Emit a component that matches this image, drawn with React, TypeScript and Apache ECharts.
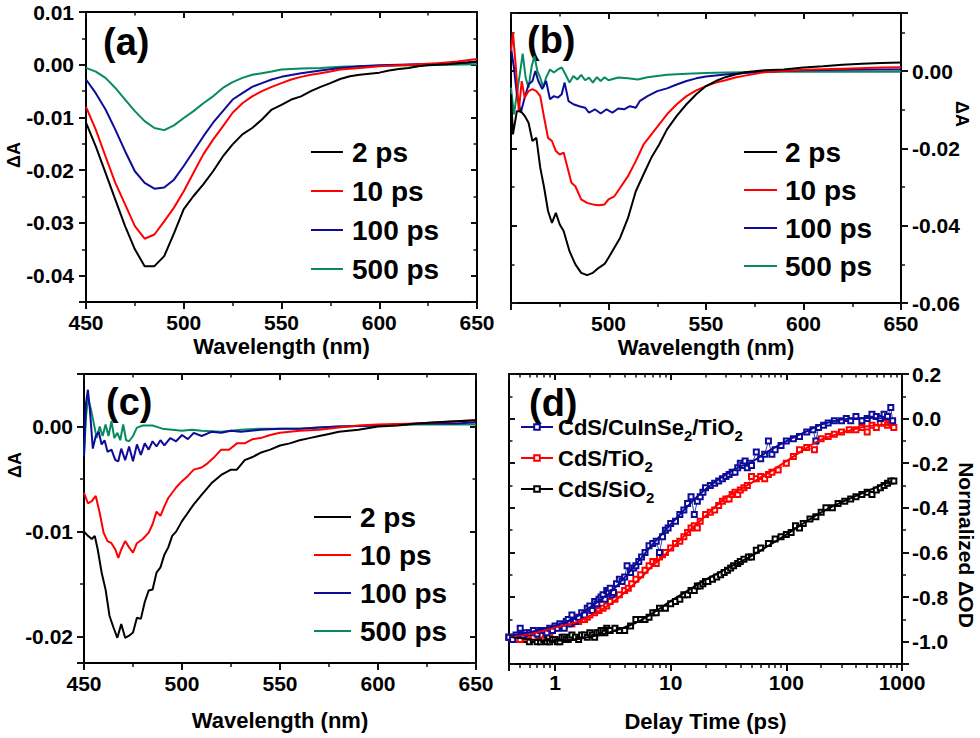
import React, { useEffect, useRef } from "react";
import * as echarts from "echarts";

const FONT = "'Liberation Sans', Arial, Helvetica, sans-serif";
const BLACK = "#000000";
const RED = "#ff0000";
const BLUE = "#0c0c98";
const GREEN = "#078a60";
const TICK = "#111111";

// ---------- Panel (a) ----------
const a2ps = [[450,-0.011],[455,-0.0155],[460,-0.0205],[465,-0.0256],[470,-0.0306],[475,-0.035],[480,-0.0382],[485,-0.0382],[490,-0.0363],[495,-0.032],[500,-0.0274],[505,-0.0249],[510,-0.0227],[515,-0.0202],[520,-0.0174],[525,-0.0151],[530,-0.0132],[535,-0.012],[540,-0.0104],[545,-0.0085],[550,-0.0076],[555,-0.0066],[560,-0.006],[565,-0.005],[570,-0.0042],[575,-0.0035],[580,-0.0027],[585,-0.0022],[590,-0.0019],[595,-0.0017],[600,-0.0015],[605,-0.0011],[610,-0.0008],[615,-0.0006],[620,-0.0003],[625,-0.0001],[630,0],[635,0.0001],[640,0.0003],[645,0.0004],[650,0.0006]];
const a10ps = [[450,-0.008],[455,-0.0123],[460,-0.0174],[465,-0.0224],[470,-0.0265],[475,-0.0306],[480,-0.033],[485,-0.0322],[490,-0.0297],[495,-0.0271],[500,-0.024],[505,-0.0205],[510,-0.017],[515,-0.0142],[520,-0.0117],[525,-0.0091],[530,-0.0073],[535,-0.006],[540,-0.005],[545,-0.0042],[550,-0.0035],[555,-0.0028],[560,-0.0023],[565,-0.0019],[570,-0.0016],[575,-0.0013],[580,-0.0009],[590,-0.0006],[600,-0.0003],[610,-0.0001],[620,0.0001],[630,0.0003],[640,0.0006],[650,0.0011]];
const a100ps = [[450,-0.0028],[455,-0.0054],[460,-0.0085],[465,-0.0123],[470,-0.0164],[475,-0.0202],[480,-0.0224],[485,-0.0235],[490,-0.0233],[495,-0.0218],[500,-0.0192],[505,-0.0164],[510,-0.0136],[515,-0.011],[520,-0.0088],[525,-0.0066],[530,-0.0054],[535,-0.0042],[540,-0.0035],[545,-0.0028],[550,-0.0023],[560,-0.0016],[570,-0.0011],[580,-0.0006],[590,-0.0003],[600,-0.0001],[610,0],[620,0.0001],[630,0.0002],[640,0.0003],[650,0.0005]];
const a500ps = [[450,-0.0006],[455,-0.0013],[460,-0.0025],[465,-0.0044],[470,-0.0066],[475,-0.0088],[480,-0.0107],[485,-0.012],[490,-0.0124],[495,-0.0115],[500,-0.0101],[505,-0.0088],[510,-0.0073],[515,-0.006],[520,-0.0044],[525,-0.0033],[530,-0.0025],[535,-0.0019],[540,-0.0016],[545,-0.0013],[550,-0.0009],[560,-0.0007],[570,-0.0006],[580,-0.0004],[590,-0.0003],[600,-0.0002],[620,-0.0001],[650,0.0001]];

// ---------- Panel (b) ----------
const b2ps = [[450,-0.006],[451,-0.0164],[453,-0.0104],[455,-0.0104],[457,-0.0116],[459,-0.0134],[461,-0.0181],[463,-0.0173],[465,-0.025],[467,-0.0302],[469,-0.0362],[471,-0.0393],[473,-0.0367],[475,-0.0397],[477,-0.0414],[480,-0.0466],[483,-0.05],[486,-0.0522],[489,-0.0528],[492,-0.0522],[495,-0.0509],[498,-0.0499],[500,-0.0483],[503,-0.0457],[506,-0.0431],[510,-0.038],[514,-0.0311],[518,-0.0267],[522,-0.0224],[526,-0.019],[530,-0.0151],[535,-0.0116],[540,-0.0086],[545,-0.006],[550,-0.0039],[555,-0.0026],[560,-0.0016],[565,-0.0009],[570,-0.0003],[580,0.0002],[590,0.0004],[600,0.0009],[610,0.0012],[620,0.0016],[630,0.0019],[640,0.0021],[650,0.0022]];
const b10ps = [[450,0.0052],[451,0.0099],[452.5,0.0009],[454,-0.0104],[455.5,-0.0026],[457,-0.0069],[459,-0.0052],[461,-0.0047],[463,-0.0052],[465,-0.0065],[467,-0.0121],[469,-0.0173],[471,-0.0181],[473,-0.0207],[475,-0.0216],[477,-0.0211],[479,-0.025],[481,-0.0289],[483,-0.0298],[486,-0.0332],[489,-0.0341],[492,-0.0345],[495,-0.0347],[498,-0.0345],[500,-0.0332],[503,-0.0324],[506,-0.0302],[510,-0.0272],[514,-0.0233],[518,-0.019],[522,-0.0164],[526,-0.0138],[530,-0.0112],[535,-0.0086],[540,-0.0065],[545,-0.005],[550,-0.0039],[555,-0.003],[560,-0.0024],[565,-0.0017],[570,-0.0012],[580,-0.0003],[590,0],[600,0.0003],[620,0.0006],[640,0.0009],[650,0.001]];
const b100ps = [[450,0.006],[451.5,0.0009],[453,-0.006],[455,-0.0108],[457,-0.0069],[459,-0.0035],[461,-0.0026],[462.5,0],[464,-0.0026],[466,-0.0047],[468,-0.0026],[470,-0.0073],[472,-0.0065],[474,-0.0069],[476,-0.006],[477.5,-0.003],[479.5,-0.0078],[482,-0.0086],[485,-0.0091],[488,-0.0095],[490,-0.0108],[493,-0.0099],[496,-0.011],[499,-0.0099],[502,-0.0108],[505,-0.0097],[508,-0.0099],[511,-0.0091],[514,-0.0095],[516,-0.0078],[520,-0.0065],[525,-0.0052],[530,-0.0045],[535,-0.0035],[540,-0.0026],[545,-0.0019],[550,-0.0014],[560,-0.0009],[570,-0.0005],[580,-0.0002],[600,0.0002],[620,0.0003],[640,0.0004],[650,0.0004]];
const b500ps = [[450,-0.0043],[451.5,-0.0112],[453,-0.006],[455,0.0009],[456,0.0045],[457.5,-0.0017],[459,-0.0043],[460.5,0.0009],[462,0.0039],[463.5,0],[465,-0.0017],[466.5,-0.0043],[468,-0.0017],[470,0.0004],[472,-0.0004],[474,0.0004],[476,0.0009],[478,-0.0009],[480,-0.003],[482,-0.0013],[484,-0.0022],[486,-0.001],[488,-0.0024],[490,-0.0017],[492,-0.003],[494,-0.0016],[496,-0.0026],[498,-0.0016],[500,-0.0024],[505,-0.0017],[510,-0.0019],[515,-0.0022],[520,-0.0016],[525,-0.0013],[530,-0.001],[540,-0.0007],[550,-0.0005],[560,-0.0004],[570,-0.0003],[580,-0.0002],[600,-0.0002],[620,-0.0001],[640,-0.0002],[650,-0.0002]];

// ---------- Panel (c) ----------
const c2ps = [[450,-0.01],[452,-0.0104],[454,-0.0107],[455.5,-0.0104],[457,-0.0117],[459,-0.0139],[461,-0.0155],[463,-0.018],[465,-0.0191],[467,-0.0201],[469,-0.0188],[471,-0.0201],[473,-0.0199],[475,-0.0196],[477,-0.0182],[479,-0.0183],[481,-0.0167],[483,-0.0156],[485,-0.0155],[487,-0.0139],[489,-0.0134],[491,-0.0122],[493,-0.0115],[495,-0.0104],[497,-0.01],[500,-0.009],[503,-0.0082],[506,-0.0074],[510,-0.0065],[515,-0.0054],[520,-0.0046],[525,-0.0041],[528,-0.0041],[532,-0.0032],[536,-0.0029],[540,-0.0025],[545,-0.0022],[550,-0.0018],[555,-0.0016],[560,-0.0013],[565,-0.0011],[570,-0.0009],[575,-0.0007],[580,-0.0005],[590,-0.0003],[600,0],[610,0.0001],[620,0.0003],[630,0.0004],[640,0.0005],[650,0.0006]];
const c10ps = [[450,-0.0063],[452,-0.0073],[454,-0.0071],[456,-0.0066],[458,-0.0082],[460,-0.0101],[462,-0.0109],[464,-0.0111],[466,-0.0117],[467.5,-0.0125],[469,-0.0117],[471,-0.0109],[473,-0.0115],[475,-0.012],[477,-0.0111],[480,-0.0107],[483,-0.0101],[485,-0.0093],[487,-0.0081],[489,-0.0085],[491,-0.0076],[493,-0.0068],[495,-0.0063],[497,-0.0058],[500,-0.0052],[503,-0.0047],[506,-0.0041],[510,-0.0039],[513,-0.0035],[516,-0.003],[520,-0.0022],[524,-0.0022],[528,-0.0016],[532,-0.0016],[536,-0.0012],[540,-0.0011],[545,-0.0008],[550,-0.0006],[560,-0.0004],[570,-0.0003],[580,-0.0001],[590,0.0001],[600,0.0002],[620,0.0003],[640,0.0005],[650,0.0006]];
const c100ps = [[450,-0.0028],[451,0.0022],[452,0.0035],[453,0.0016],[454.5,-0.0021],[456,-0.0009],[457.5,-0.0005],[459,-0.0017],[460.5,-0.0013],[462,-0.0024],[464,-0.0022],[466,-0.0032],[467.5,-0.0033],[469,-0.0021],[471,-0.0032],[473,-0.0019],[475,-0.0033],[477,-0.0017],[479,-0.0027],[481,-0.0016],[483,-0.0022],[485,-0.0014],[487,-0.0019],[489,-0.0013],[491,-0.0018],[494,-0.0011],[497,-0.0014],[500,-0.0008],[503,-0.0012],[506,-0.0006],[510,-0.0009],[515,-0.0005],[520,-0.0006],[525,-0.0004],[530,-0.0005],[540,-0.0003],[550,-0.0002],[560,-0.0002],[570,-0.0001],[580,0],[600,0.0001],[620,0.0003],[640,0.0003],[650,0.0004]];
const c500ps = [[450,-0.0028],[451,0.0009],[452,0.0027],[453.5,0.0017],[455,0.0003],[456.5,-0.0011],[458,0],[459.5,-0.0009],[461,0.0002],[462.5,-0.0009],[464,0.0005],[465.5,-0.0011],[467,-0.0006],[468.5,-0.0013],[470,0.0002],[471.5,-0.0013],[473,-0.0014],[475,-0.0009],[477,-0.0001],[480,0.0001],[485,0.0001],[490,-0.0002],[495,-0.0003],[500,-0.0004],[505,-0.0003],[510,-0.0004],[520,-0.0005],[530,-0.0003],[540,-0.0002],[550,-0.0002],[560,-0.0002],[570,-0.0001],[580,0],[600,0.0001],[620,0.0002],[640,0.0002],[650,0.0002]];

// ---------- Panel (d) ----------
const dBlueData = [[0.4,-0.98],[0.43,-0.99],[0.46,-0.97],[0.5,-0.94],[0.53,-0.97],[0.56,-0.96],[0.6,-0.96],[0.65,-0.95],[0.7,-0.965],[0.75,-0.95],[0.8,-0.95],[0.85,-0.96],[0.9,-0.94],[0.95,-0.95],[1.0,-0.93],[1.05,-0.94],[1.1,-0.92],[1.15,-0.93],[1.2,-0.94],[1.25,-0.91],[1.3,-0.9],[1.35,-0.92],[1.4,-0.88],[1.45,-0.91],[1.5,-0.91],[1.6,-0.89],[1.7,-0.87],[1.8,-0.88],[1.9,-0.85],[2.0,-0.84],[2.1,-0.86],[2.2,-0.82],[2.3,-0.83],[2.4,-0.81],[2.5,-0.8],[2.6,-0.79],[2.7,-0.81],[2.8,-0.77],[2.9,-0.78],[3.0,-0.76],[3.1,-0.79],[3.2,-0.78],[3.4,-0.74],[3.6,-0.72],[3.8,-0.73],[4.0,-0.71],[4.2,-0.66],[4.5,-0.69],[4.8,-0.67],[5,-0.66],[5.3,-0.64],[5.6,-0.62],[6,-0.6],[6.5,-0.57],[7,-0.56],[7.5,-0.55],[8,-0.6],[8.5,-0.53],[9,-0.5],[9.5,-0.49],[10,-0.47],[11,-0.46],[12,-0.43],[13,-0.41],[14,-0.38],[15,-0.35],[16,-0.43],[17,-0.37],[18,-0.35],[19,-0.33],[20,-0.31],[22,-0.3],[24,-0.29],[26,-0.28],[28,-0.27],[30,-0.26],[32,-0.25],[34,-0.24],[36,-0.24],[38,-0.22],[40,-0.2],[42,-0.21],[44,-0.19],[46,-0.22],[48,-0.2],[50,-0.21],[55,-0.15],[60,-0.18],[65,-0.16],[70,-0.1],[75,-0.16],[80,-0.14],[90,-0.12],[100,-0.1],[115,-0.09],[130,-0.08],[150,-0.06],[170,-0.05],[180,-0.1],[190,-0.04],[210,-0.03],[230,-0.02],[260,-0.01],[300,-0.01],[330,0.0],[360,-0.01],[400,0.01],[450,-0.01],[500,0.0],[550,0.02],[600,0.01],[650,0.0],[700,0.02],[750,0.01],[800,0.05],[830,-0.01]];
const dRedData = [[0.4,-0.98],[0.45,-0.99],[0.5,-0.99],[0.55,-0.98],[0.6,-0.97],[0.65,-0.98],[0.7,-0.96],[0.75,-0.97],[0.8,-0.95],[0.85,-0.96],[0.9,-0.96],[0.95,-0.95],[1.0,-0.94],[1.1,-0.93],[1.2,-0.93],[1.3,-0.92],[1.4,-0.92],[1.5,-0.91],[1.6,-0.91],[1.7,-0.9],[1.8,-0.9],[1.9,-0.89],[2.0,-0.88],[2.2,-0.87],[2.4,-0.86],[2.6,-0.85],[2.8,-0.84],[3.0,-0.82],[3.3,-0.81],[3.6,-0.79],[4.0,-0.77],[4.3,-0.76],[4.6,-0.74],[5.0,-0.72],[5.5,-0.7],[6.0,-0.68],[6.5,-0.66],[7,-0.64],[7.5,-0.65],[8,-0.62],[8.5,-0.61],[9,-0.6],[10,-0.58],[11,-0.56],[12,-0.55],[13,-0.53],[14,-0.51],[15,-0.49],[16,-0.48],[17,-0.49],[18,-0.46],[20,-0.43],[22,-0.42],[24,-0.41],[26,-0.39],[28,-0.37],[30,-0.36],[32,-0.36],[34,-0.34],[36,-0.33],[38,-0.34],[40,-0.32],[43,-0.31],[46,-0.3],[50,-0.26],[55,-0.27],[60,-0.26],[65,-0.27],[70,-0.25],[75,-0.24],[85,-0.23],[100,-0.2],[115,-0.17],[130,-0.14],[150,-0.13],[175,-0.14],[200,-0.09],[230,-0.08],[260,-0.07],[300,-0.06],[350,-0.05],[400,-0.05],[450,-0.04],[500,-0.06],[550,-0.03],[600,-0.04],[650,-0.02],[700,-0.02],[750,-0.03],[800,-0.02],[850,-0.04]];
const dBlackData = [[0.4,-0.98],[0.45,-0.99],[0.5,-0.97],[0.55,-0.99],[0.6,-1.0],[0.65,-0.99],[0.7,-1.0],[0.75,-1.0],[0.8,-0.99],[0.85,-1.0],[0.9,-1.0],[0.95,-0.99],[1.0,-0.99],[1.05,-1.0],[1.1,-1.0],[1.15,-0.98],[1.2,-0.98],[1.25,-0.99],[1.3,-0.99],[1.35,-0.98],[1.4,-0.97],[1.5,-0.98],[1.6,-0.99],[1.7,-0.97],[1.8,-0.97],[1.9,-0.98],[2.0,-0.96],[2.1,-0.97],[2.2,-0.98],[2.3,-0.96],[2.4,-0.96],[2.5,-0.95],[2.6,-0.95],[2.7,-0.96],[2.8,-0.94],[2.9,-0.95],[3.0,-0.95],[3.3,-0.94],[3.6,-0.95],[4.0,-0.95],[4.5,-0.93],[5,-0.9],[5.5,-0.9],[6,-0.9],[6.5,-0.89],[7,-0.87],[7.5,-0.87],[8,-0.85],[9,-0.85],[10,-0.83],[11,-0.82],[12,-0.81],[13,-0.79],[14,-0.79],[15,-0.77],[16,-0.77],[17,-0.75],[18,-0.75],[19,-0.74],[20,-0.73],[21,-0.73],[23,-0.72],[25,-0.71],[27,-0.7],[29,-0.69],[31,-0.68],[33,-0.67],[35,-0.66],[38,-0.65],[40,-0.64],[43,-0.63],[47,-0.62],[50,-0.62],[55,-0.59],[60,-0.58],[70,-0.56],[80,-0.54],[90,-0.53],[100,-0.52],[110,-0.51],[120,-0.48],[130,-0.49],[140,-0.47],[160,-0.45],[180,-0.44],[200,-0.42],[220,-0.4],[250,-0.4],[280,-0.38],[320,-0.37],[360,-0.36],[400,-0.35],[450,-0.34],[500,-0.33],[550,-0.34],[600,-0.32],[650,-0.31],[700,-0.3],[750,-0.29],[800,-0.28],[850,-0.28]];
const dBlueFit = [[0.4,-0.973],[0.6,-0.958],[1,-0.928],[1.5,-0.891],[2,-0.846],[3,-0.779],[4,-0.712],[5,-0.653],[7,-0.563],[10,-0.474],[15,-0.377],[20,-0.317],[30,-0.25],[40,-0.215],[50,-0.195],[70,-0.146],[100,-0.101],[150,-0.057],[200,-0.027],[300,-0.004],[500,0.003],[800,-0.001]];
const dRedFit = [[0.4,-0.973],[0.6,-0.966],[1,-0.936],[1.5,-0.914],[2,-0.884],[3,-0.832],[4,-0.779],[5,-0.735],[7,-0.66],[10,-0.586],[15,-0.496],[20,-0.437],[30,-0.355],[40,-0.317],[50,-0.288],[70,-0.243],[100,-0.191],[150,-0.131],[200,-0.094],[300,-0.064],[500,-0.034],[800,-0.027]];
const dBlackFit = [[0.4,-0.975],[0.6,-0.99],[1,-0.996],[1.5,-0.99],[2,-0.978],[3,-0.958],[5,-0.915],[7,-0.872],[10,-0.818],[15,-0.762],[20,-0.722],[30,-0.675],[50,-0.615],[70,-0.57],[100,-0.52],[150,-0.46],[200,-0.42],[300,-0.375],[500,-0.325],[800,-0.28]];

const spectraNames = ["2 ps", "10 ps", "100 ps", "500 ps"];
const spectraColors = [BLACK, RED, BLUE, GREEN];
const dNames = ["CdS/CuInSe2/TiO2", "CdS/TiO2", "CdS/SiO2"];
const dLegendText: Record<string, string> = {
  "CdS/CuInSe2/TiO2": "{b|CdS/CuInSe}{s|2}{b|/TiO}{s|2}",
  "CdS/TiO2": "{b|CdS/TiO}{s|2}",
  "CdS/SiO2": "{b|CdS/SiO}{s|2}",
};

const fmt2 = (v: number) => (Math.abs(v) < 1e-9 ? 0 : v).toFixed(2);
const fmt1 = (v: number) => (Math.abs(v) < 1e-9 ? 0 : v).toFixed(1);

const labelFont = { fontFamily: FONT, fontWeight: "bold", fontSize: 21, color: "#000" };
const nameFont = { fontFamily: FONT, fontWeight: "bold", fontSize: 22, color: "#000" };

function mainAxis(base: any, pos: string, minor: number, label: any, extra: any = {}) {
  return {
    ...base,
    position: pos,
    splitLine: { show: false },
    axisLine: { show: true, onZero: false, lineStyle: { color: "#000", width: 2 } },
    axisTick: { show: true, inside: false, length: 7, lineStyle: { color: TICK, width: 2 } },
    minorTick: { show: true, splitNumber: minor, length: 4, lineStyle: { color: TICK, width: 1.5 } },
    axisLabel: { ...labelFont, ...label },
    ...extra,
  };
}
function plainAxis(base: any, pos: string, minor: number) {
  return {
    ...base,
    position: pos,
    splitLine: { show: false },
    axisLine: { show: true, onZero: false, lineStyle: { color: "#000", width: 2 } },
    axisTick: { show: true, inside: true, length: 6, lineStyle: { color: TICK, width: 2 } },
    minorTick: { show: true, splitNumber: minor, length: 3.5, lineStyle: { color: TICK, width: 1.5 } },
    axisLabel: { show: false },
  };
}

const wl = (g: number) => ({ type: "value", gridIndex: g, min: 450, max: 650, interval: 50 });
const yA = { type: "value", gridIndex: 0, min: -0.045, max: 0.01, splitNumber: 5 };
const yB = { type: "value", gridIndex: 1, min: -0.06, max: 0.015, interval: 0.02 };
const yC = { type: "value", gridIndex: 2, min: -0.0225, max: 0.005, splitNumber: 3 };
const yD = { type: "value", gridIndex: 3, min: -1.1, max: 0.2, splitNumber: 6 };
const xD = { type: "log", gridIndex: 3, min: 0.4, max: 1000, logBase: 10 };

function spectraSeries(sets: number[][][], axis: number) {
  return sets.map((d, i) => ({
    type: "line",
    name: spectraNames[i],
    xAxisIndex: axis,
    yAxisIndex: axis,
    data: d,
    showSymbol: false,
    symbol: "none",
    lineStyle: { color: spectraColors[i], width: 2 },
    itemStyle: { color: spectraColors[i] },
    z: 10 - i,
  }));
}

function spectraLegend(left: number, top: number, itemWidth: number, gap: number, pad: number) {
  return {
    data: spectraNames,
    orient: "vertical",
    left,
    top,
    padding: 0,
    icon: "rect",
    itemWidth,
    itemHeight: 2,
    itemGap: gap,
    selectedMode: false,
    textStyle: { fontFamily: FONT, fontWeight: "bold", fontSize: 28, lineHeight: 27, color: "#000", padding: [0, 0, 0, pad] },
  };
}

function panelLabel(text: string, x: number, y: number) {
  return { type: "text", x, y, style: { text, fontFamily: FONT, fontWeight: "bold", fontSize: 38, fill: "#000", verticalAlign: "middle" } };
}
function vName(text: string, x: number, y: number, rot: number, size: number) {
  return { type: "text", x, y, rotation: rot, style: { text, fontFamily: FONT, fontWeight: "bold", fontSize: size, fill: "#000", align: "center", verticalAlign: "middle" } };
}

export default function App() {
  const ref = useRef<HTMLDivElement>(null);
  useEffect(() => {
    if (!ref.current) return;
    const chart = echarts.init(ref.current, null, { renderer: "svg" });
    const dColors = [BLUE, RED, BLACK];
    const dData = [dBlueData, dRedData, dBlackData];
    const dFits = [dBlueFit, dRedFit, dBlackFit];
    const option: any = {
      animation: false,
      grid: [
        { left: 86, top: 12, width: 391, height: 290 },
        { left: 511, top: 13, width: 390, height: 290 },
        { left: 84, top: 374, width: 392, height: 289 },
        { left: 509, top: 374, width: 393, height: 290 },
      ],
      xAxis: [
        mainAxis(wl(0), "bottom", 2, { margin: 10 }, { name: "Wavelength (nm)", nameLocation: "middle", nameGap: 33, nameTextStyle: nameFont }),
        plainAxis(wl(0), "top", 2),
        mainAxis(wl(1), "bottom", 2, { margin: 10, showMinLabel: false }, { name: "Wavelength (nm)", nameLocation: "middle", nameGap: 33, nameTextStyle: nameFont }),
        plainAxis(wl(1), "top", 2),
        mainAxis(wl(2), "bottom", 2, { margin: 10 }, { name: "Wavelength (nm)", nameLocation: "middle", nameGap: 46, nameTextStyle: nameFont }),
        plainAxis(wl(2), "top", 2),
        mainAxis(xD, "bottom", 9, { margin: 8, showMinLabel: false, formatter: (v: number) => String(Math.round(v)) }, { name: "Delay Time (ps)", nameLocation: "middle", nameGap: 46, nameTextStyle: nameFont }),
        plainAxis(xD, "top", 9),
      ],
      yAxis: [
        mainAxis(yA, "left", 2, { margin: 12, showMinLabel: false, formatter: fmt2 }),
        plainAxis(yA, "right", 2),
        mainAxis(yB, "right", 2, { margin: 11, showMaxLabel: false, formatter: fmt2 }),
        plainAxis(yB, "left", 2),
        mainAxis(yC, "left", 2, { margin: 11, showMinLabel: false, showMaxLabel: false, formatter: fmt2 }),
        plainAxis(yC, "right", 2),
        mainAxis(yD, "right", 2, { margin: 10, showMinLabel: false, formatter: fmt1 }),
        plainAxis(yD, "left", 2),
      ],
      legend: [
        spectraLegend(311, 138, 32, 11, 4),
        spectraLegend(744, 138, 33, 10, 3),
        spectraLegend(314, 503, 37, 10, 4),
        {
          data: dNames,
          orient: "vertical",
          left: 520,
          top: 416,
          padding: 0,
          itemWidth: 32,
          itemHeight: 7,
          itemGap: 4,
          selectedMode: false,
          formatter: (n: string) => dLegendText[n],
          textStyle: {
            fontFamily: FONT, fontWeight: "bold", fontSize: 22, color: "#000",
            rich: {
              b: { fontFamily: FONT, fontWeight: "bold", fontSize: 22, lineHeight: 32, color: "#000" },
              s: { fontFamily: FONT, fontWeight: "bold", fontSize: 15, lineHeight: 14, verticalAlign: "bottom", color: "#000" },
            },
          },
        },
      ],
      graphic: [
        panelLabel("(a)", 103, 42),
        panelLabel("(b)", 527, 40),
        panelLabel("(c)", 106, 402),
        panelLabel("(d)", 529, 403),
        vName("ΔA", 14, 155, Math.PI / 2, 18),
        vName("ΔA", 962, 114, -Math.PI / 2, 18),
        vName("ΔA", 15, 465, Math.PI / 2, 18),
        vName("Normalized ΔOD", 966, 545, -Math.PI / 2, 21),
      ],
      series: [
        ...spectraSeries([a2ps, a10ps, a100ps, a500ps], 0),
        ...spectraSeries([b2ps, b10ps, b100ps, b500ps], 2),
        ...spectraSeries([c2ps, c10ps, c100ps, c500ps], 4),
        ...[2, 1, 0].map((i) => ({
          type: "line",
          name: dNames[i],
          xAxisIndex: 6,
          yAxisIndex: 6,
          data: dData[i],
          symbol: "emptyRect",
          symbolSize: 5,
          showSymbol: true,
          lineStyle: { color: dColors[i], width: 0.8 },
          itemStyle: { color: dColors[i], borderWidth: 1 },
          z: 3 + (2 - i),
        })),
        ...[2, 1, 0].map((i) => ({
          type: "line",
          name: dNames[i] + " fit",
          xAxisIndex: 6,
          yAxisIndex: 6,
          data: dFits[i],
          smooth: 0.4,
          symbol: "none",
          showSymbol: false,
          lineStyle: { color: dColors[i], width: 2 },
          z: 8,
        })),
      ],
    };
    chart.setOption(option);
    return () => chart.dispose();
  }, []);
  return <div ref={ref} style={{ position: "absolute", left: 0, top: 0, width: 980, height: 738, background: "#fff" }} />;
}
